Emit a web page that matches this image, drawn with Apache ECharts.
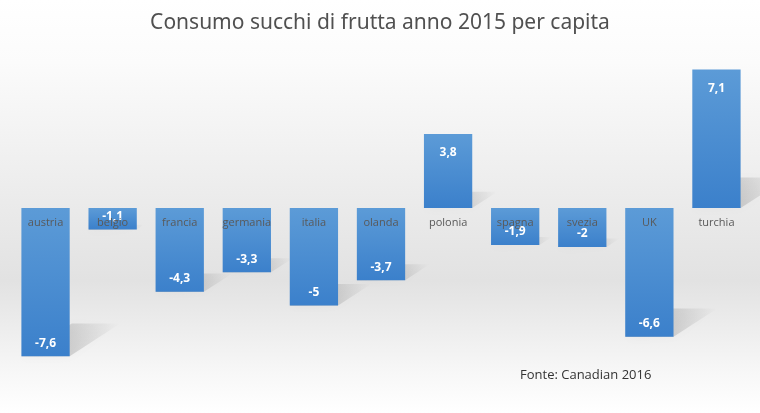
<!DOCTYPE html>
<html>
<head>
<meta charset="utf-8">
<script src="https://cdn.jsdelivr.net/npm/echarts@6/dist/echarts.min.js"></script>
<style>
html,body{margin:0;padding:0;}
#main{width:760px;height:413px;}
</style>
</head>
<body>
<div id="main"></div>
<script>
var paesi = ['austria', 'belgio', 'francia', 'germania', 'italia', 'olanda', 'polonia', 'spagna', 'svezia', 'UK', 'turchia'];
var variazioni = [-7.6, -1.1, -4.3, -3.3, -5, -3.7, 3.8, -1.9, -2, -6.6, 7.1];

var myChart = echarts.init(document.getElementById('main'));

// ombra "a terra" proiettata verso destra in alto
function disegnaOmbra(params, api) {
	var idx = api.value(0);
	var v = api.value(1);
	var p0 = api.coord([idx, 0]);
	var pv = api.coord([idx, v]);
	var w = api.size([1, 0])[0] * 0.72;
	var xl = p0[0] - w / 2, xr = p0[0] + w / 2;
	var yb = Math.max(p0[1], pv[1]);
	var h = Math.abs(pv[1] - p0[1]);
	var dx = h * 0.34, dy = h * 0.22;
	return {
		type: 'polygon',
		shape: { points: [[xl, yb], [xr, yb], [xr + dx, yb - dy], [xl + dx, yb - dy]] },
		style: {
			fill: new echarts.graphic.LinearGradient(0, 1, 1, 0, [
				{ offset: 0, color: 'rgba(0,0,0,0.26)' },
				{ offset: 0.6, color: 'rgba(0,0,0,0.1)' },
				{ offset: 1, color: 'rgba(0,0,0,0)' }
			]),
			shadowBlur: 10,
			shadowColor: 'rgba(0,0,0,0.15)'
		}
	};
}

// nomi dei paesi sulla linea dello zero
function disegnaNome(params, api) {
	var idx = api.value(0);
	var p0 = api.coord([idx, 0]);
	return {
		type: 'text',
		x: p0[0],
		y: p0[1] + 15,
		style: {
			text: paesi[idx],
			fill: '#595959',
			font: '11px "Open Sans"',
			align: 'center',
			verticalAlign: 'middle'
		}
	};
}

var option = {
	backgroundColor: new echarts.graphic.LinearGradient(0, 0, 0, 1, [
		{ offset: 0, color: '#ffffff' },
		{ offset: 0.15, color: '#fbfbfb' },
		{ offset: 0.68, color: '#e2e2e2' },
		{ offset: 0.9, color: '#f7f7f7' },
		{ offset: 1, color: '#ffffff' }
	]),
	title: {
		text: 'Consumo succhi di frutta anno 2015 per capita',
		left: 'center',
		top: 8,
		textStyle: {
			color: '#505050',
			fontSize: 21,
			fontWeight: 'normal',
			fontFamily: 'Noto Sans'
		}
	},
	graphic: [{
		type: 'text',
		left: 520,
		top: 369,
		style: {
			text: 'Fonte: Canadian 2016',
			fill: '#333333',
			font: '13px "Open Sans"'
		}
	}],
	grid: {
		left: 12,
		right: 10,
		top: 52,
		bottom: 49
	},
	xAxis: {
		type: 'category',
		data: paesi,
		axisLine: { show: false },
		axisTick: { show: false },
		axisLabel: { show: false }
	},
	yAxis: {
		type: 'value',
		min: -8,
		max: 8,
		show: false
	},
	series: [{
		type: 'custom',
		renderItem: disegnaOmbra,
		data: variazioni.map(function (v, i) { return [i, v]; }),
		z: 1,
		silent: true
	}, {
		type: 'bar',
		barWidth: '72%',
		z: 2,
		itemStyle: {
			color: new echarts.graphic.LinearGradient(0, 0, 0, 1, [
				{ offset: 0, color: '#5c9bd7' },
				{ offset: 1, color: '#3b80cb' }
			])
		},
		label: {
			show: true,
			color: '#ffffff',
			fontWeight: 'bold',
			fontSize: 12,
			fontFamily: 'Open Sans',
			formatter: function (p) { return String(p.value).replace('.', ','); }
		},
		// etichette dei valori negativi in fondo alla barra
		data: variazioni.map(function (v) {
			return {
				value: v,
				label: { position: v < 0 ? 'insideBottom' : 'insideTop', distance: v < 0 ? 7 : 13 }
			};
		})
	}, {
		type: 'custom',
		renderItem: disegnaNome,
		data: variazioni.map(function (v, i) { return [i, 0]; }),
		z: 3,
		silent: true
	}]
};

myChart.setOption(option);
</script>
</body>
</html>
